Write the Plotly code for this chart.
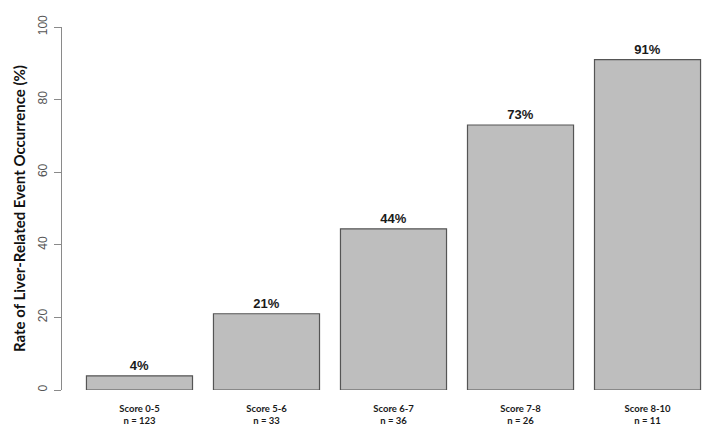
import plotly.graph_objects as go

# score groups, patient counts and event rates (%)
groups = ['Score 0-5', 'Score 5-6', 'Score 6-7', 'Score 7-8', 'Score 8-10']
n_pat = [123, 33, 36, 26, 11]
rates = [3.9, 21.0, 44.4, 73.0, 91.0]
y_ticks = [0, 20, 40, 60, 80, 100]

cats = [f'<b>{g}</b><br><b>n = {n}</b>' for g, n in zip(groups, n_pat)]
labels = [f'<b>{round(r)}%</b>' for r in rates]

fig = go.Figure()
fig.add_trace(go.Bar(
    x=cats, y=rates,
    text=labels, textposition='outside', cliponaxis=False,
    textfont=dict(family='Liberation Sans', size=13, color='#1a1a1a'),
    marker=dict(color='#bebebe', line=dict(color='#555555', width=1.2)),
    width=0.835,
))

fig.update_layout(
    width=709, height=426,
    margin=dict(l=62, r=0, t=27, b=36),
    paper_bgcolor='white', plot_bgcolor='white',
    showlegend=False,
    xaxis=dict(
        range=[-0.61, 4.484], showline=False, showgrid=False, ticks='',
        tickfont=dict(family='Lato', size=9.5, color='#1a1a1a'),
        ticklabelstandoff=11, automargin=False,
    ),
    yaxis=dict(
        range=[0, 100], tickvals=y_ticks, showgrid=False, zeroline=False,
        showline=True, linecolor='#8a8a8a', linewidth=1,
        ticks='outside', ticklen=7, tickcolor='#8a8a8a',
        tickangle=-90,
        tickfont=dict(family='Liberation Sans', size=12, color='#555555'),
        ticklabelstandoff=2,
        title=dict(text='<b>Rate of Liver-Related Event Occurrence (%)</b>',
                   font=dict(family='Lato', size=15, color='#111111'),
                   standoff=6),
        automargin=False,
    ),
)

# page margin off so the figure sits at the window corner
fig.write_html('out.html', config={'displayModeBar': False},
               post_script="document.body.style.margin='0';")
